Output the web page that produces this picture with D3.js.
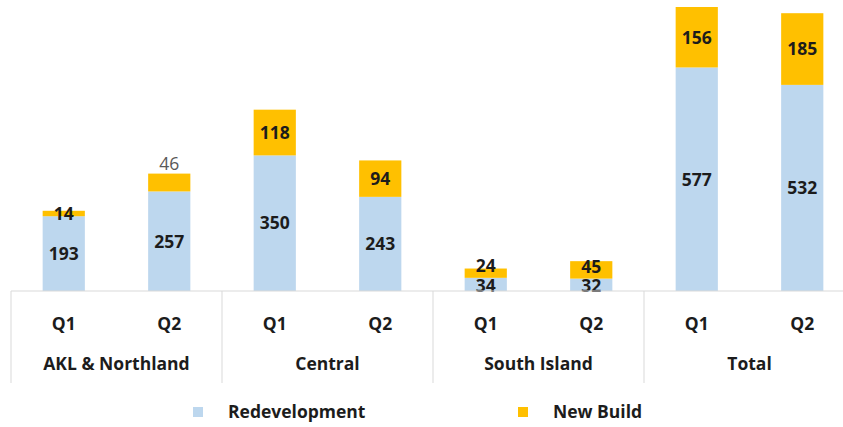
<!DOCTYPE html>
<html><head><meta charset="utf-8">
<script src="https://cdn.jsdelivr.net/npm/d3@7"></script>
<style>
html,body{margin:0;padding:0;background:#fff;}
svg{display:block;font-family:"Open Sans",Lato,Arial,sans-serif;font-weight:bold;}
</style></head>
<body>
<svg id="chart" width="843" height="427"></svg>
<script>
const groups = ["AKL & Northland", "Central", "South Island", "Total"];
const quarters = ["Q1", "Q2"];
const seriesNames = ["Redevelopment", "New Build"];
const redevelopment = [193, 257, 350, 243, 34, 32, 577, 532];
const newBuild = [14, 46, 118, 94, 24, 45, 156, 185];
const colors = ["#bdd7ee", "#ffc000"];

const svg = d3.select("#chart");
const baseY = 291, topY = 7, left = 11, right = 855;
const fs = 17.5;

const rows = [];
groups.forEach((g, gi) => quarters.forEach((q, qi) => {
  const i = gi * quarters.length + qi;
  rows.push({key: g + "|" + q, group: g, quarter: q, redevelopment: redevelopment[i], newBuild: newBuild[i]});
}));

const x = d3.scaleBand().domain(rows.map(d => d.key)).range([left, right])
  .paddingInner(0.6).paddingOuter(0.3);
const xg = d3.scaleBand().domain(groups).range([left, right]);
const y = d3.scaleLinear()
  .domain([0, d3.max(rows, d => d.redevelopment + d.newBuild)])
  .range([baseY, topY]);

const stack = d3.stack().keys(["redevelopment", "newBuild"]);
const series = stack(rows);

const layers = svg.append("g").selectAll("g").data(series).join("g")
  .attr("fill", (d, i) => colors[i]);
layers.selectAll("rect").data(d => d).join("rect")
  .attr("x", d => x(d.data.key))
  .attr("width", x.bandwidth())
  .attr("y", d => y(d[1]))
  .attr("height", d => y(d[0]) - y(d[1]));

// value labels
const lab = svg.append("g").attr("text-anchor", "middle").attr("font-size", fs);
series.forEach((s, si) => {
  s.forEach(d => {
    const v = d[1] - d[0];
    const outside = si === 1 && d.data.key === "AKL & Northland|Q2";
    let cy = outside ? y(d[1]) - 10 : (y(d[0]) + y(d[1])) / 2;
    if (si === 1 && !outside && (baseY - y(d[0])) < 20) cy = Math.min(cy, y(d[0]) - 12);
    if (si === 0 && (baseY - y(d[1])) < 20) cy += 1;
    lab.append("text")
      .attr("x", x(d.data.key) + x.bandwidth() / 2)
      .attr("y", cy)
      .attr("dy", "0.36em")
      .attr("fill", outside ? "#595959" : "#1c1c1c")
      .attr("font-weight", outside ? "normal" : "bold")
      .text(v);
  });
});

// axis line and separators
svg.append("line").attr("x1", left).attr("x2", 843).attr("y1", baseY).attr("y2", baseY)
  .attr("stroke", "#d9d9d9").attr("stroke-width", 1);
const seps = groups.map(g => xg(g)).concat([right]);
svg.append("g").selectAll("line").data(seps).join("line")
  .attr("x1", d => d).attr("x2", d => d)
  .attr("y1", baseY).attr("y2", 383)
  .attr("stroke", "#d9d9d9").attr("stroke-width", 1);

// quarter labels
svg.append("g").attr("text-anchor", "middle").attr("font-size", fs).attr("fill", "#1c1c1c")
  .selectAll("text").data(rows).join("text")
  .attr("x", d => x(d.key) + x.bandwidth() / 2)
  .attr("y", 324).attr("dy", "0.36em")
  .text(d => d.quarter);

// group labels
svg.append("g").attr("text-anchor", "middle").attr("font-size", fs).attr("fill", "#1c1c1c")
  .selectAll("text").data(groups).join("text")
  .attr("x", d => xg(d) + xg.bandwidth() / 2)
  .attr("y", 364).attr("dy", "0.36em")
  .text(d => d);

// legend
const legX = [193, 518];
const leg = svg.append("g").selectAll("g").data(seriesNames).join("g")
  .attr("transform", (d, i) => `translate(${legX[i]},412)`);
leg.append("rect").attr("x", 0).attr("y", -5).attr("width", 10).attr("height", 10)
  .attr("fill", (d, i) => colors[i]);
leg.append("text").attr("x", 35).attr("dy", "0.36em").attr("font-size", fs)
  .attr("fill", "#1c1c1c").text(d => d);
</script>
</body></html>
